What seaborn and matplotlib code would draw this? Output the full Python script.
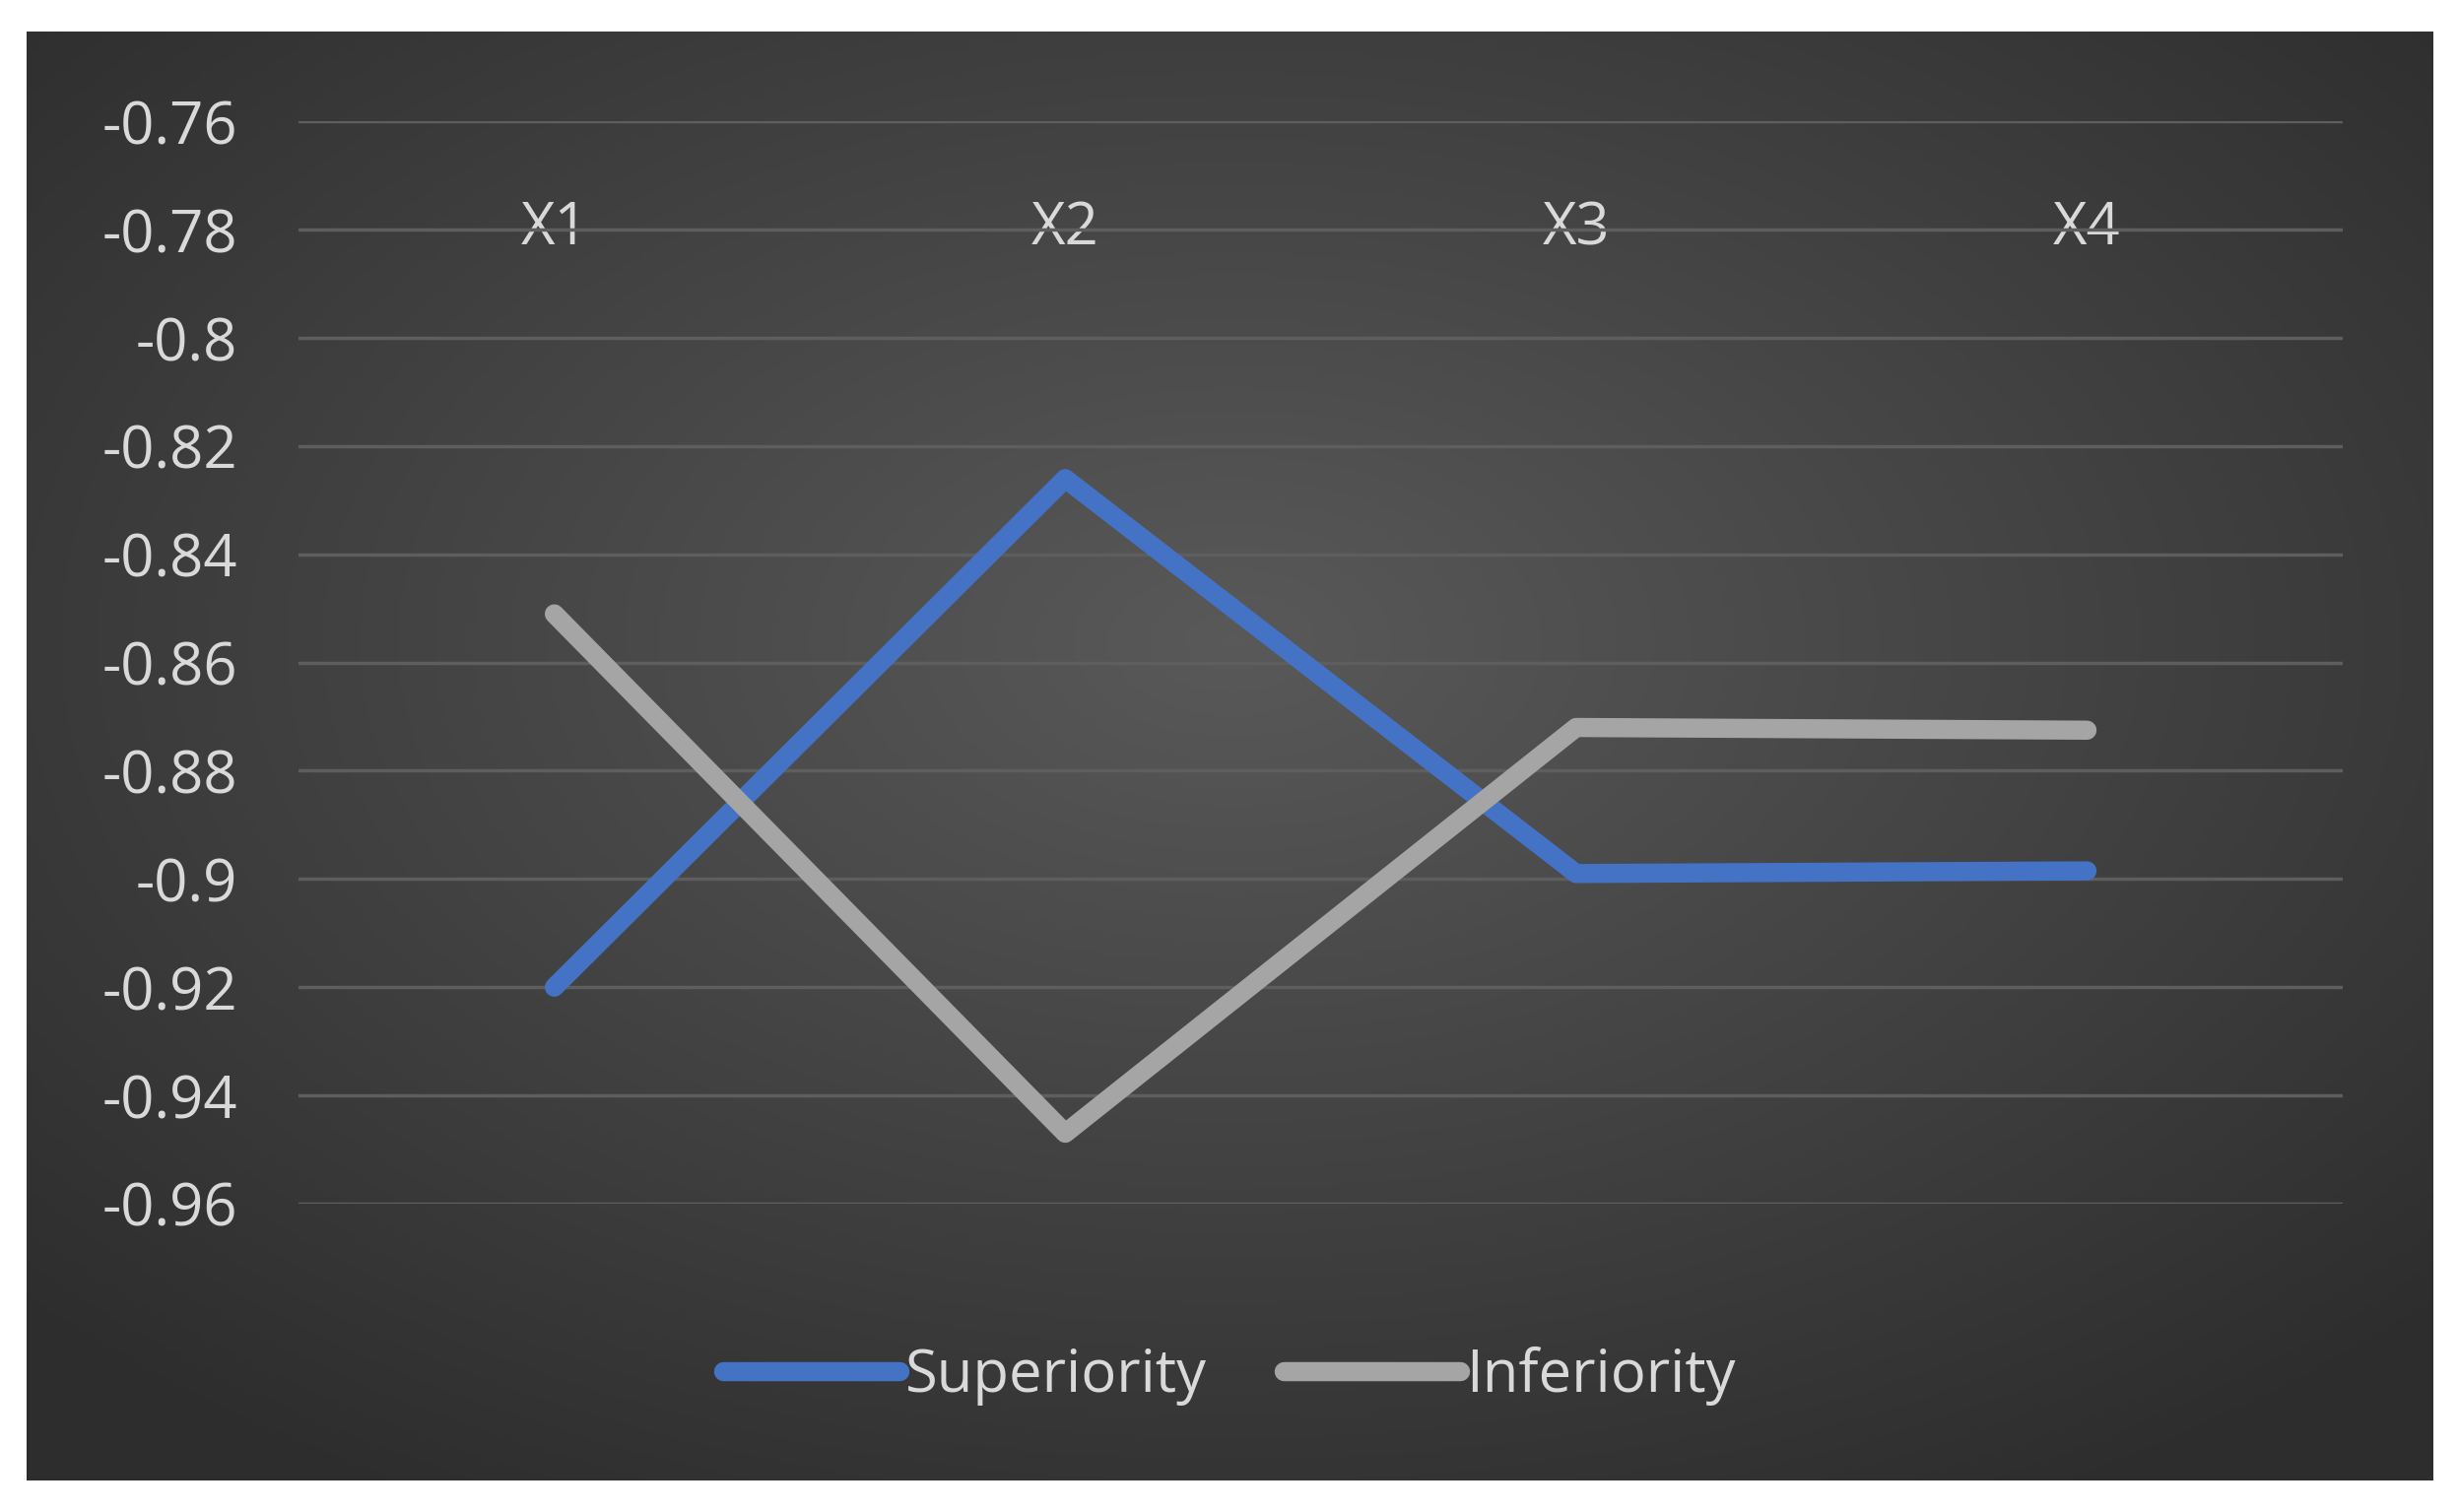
import numpy as np
import pandas as pd
import matplotlib
matplotlib.use("Agg")
import matplotlib.pyplot as plt
import seaborn as sns

categories = ["X1", "X2", "X3", "X4"]
superiority = [-0.920, -0.826, -0.899, -0.8985]
inferiority = [-0.851, -0.947, -0.872, -0.8725]
yticks = [-0.96, -0.94, -0.92, -0.90, -0.88, -0.86, -0.84, -0.82, -0.80, -0.78, -0.76]
ytick_labels = ["-0.96", "-0.94", "-0.92", "-0.9", "-0.88", "-0.86", "-0.84", "-0.82", "-0.8", "-0.78", "-0.76"]

sns.set_theme(style="white")
plt.rcParams['font.family'] = ['Open Sans', 'DejaVu Sans']

fig = plt.figure(figsize=(24.95, 15.35), dpi=100)
fig.patch.set_facecolor("white")

# gradient background
bg = fig.add_axes([0.011, 0.021, 0.979, 0.958])
h, w = 400, 600
yy, xx = np.mgrid[0:h, 0:w]
r = np.sqrt(((xx - w/2)/(w/2))**2 + ((yy - h*0.42)/(h/2))**2)
r = np.clip(r/1.35, 0, 1)
val = 0.35 - 0.17*r
img = np.dstack([val, val, val])
bg.imshow(img, aspect="auto", extent=[0, 1, 0, 1])
bg.set_axis_off()

ax = fig.add_axes([0.1216, 0.204, 0.8314, 0.7156])
ax.set_facecolor("none")
df = pd.DataFrame({"cat": categories * 2,
                   "x": list(range(4)) * 2,
                   "value": superiority + inferiority,
                   "series": ["Superiority"] * 4 + ["Inferiority"] * 4})
sns.lineplot(data=df, x="x", y="value", hue="series",
             palette={"Superiority": "#4472C4", "Inferiority": "#A5A5A5"},
             linewidth=14, ax=ax, legend=True, zorder=3)
ax.set_xlim(-0.5, 3.5)
ax.set_ylim(-0.96, -0.76)
ax.set_yticks(yticks)
ax.set_yticklabels(ytick_labels)
ax.yaxis.grid(True, color="#5e5e5e", linewidth=2.5)
ax.xaxis.grid(False)
for s in ax.spines.values():
    s.set_visible(False)
ax.set_xticks(range(4))
ax.set_xticklabels(categories)
ax.xaxis.tick_top()
ax.tick_params(axis="x", length=0, pad=-100, labelsize=43, labelcolor="#d9d9d9")
ax.tick_params(axis="y", length=0, pad=45, labelsize=43, labelcolor="#d9d9d9")
ax.set_xlabel("")
ax.set_ylabel("")

leg = ax.legend(loc="center", bbox_to_anchor=(0.5, 0.09), bbox_transform=fig.transFigure,
                ncol=2, frameon=False, fontsize=43, handlelength=3.0,
                handletextpad=0.1, columnspacing=1.3)
for t in leg.get_texts():
    t.set_color("#d9d9d9")
for l in leg.get_lines():
    l.set_linewidth(14)

fig.savefig("out.png", dpi=100, facecolor="white")
